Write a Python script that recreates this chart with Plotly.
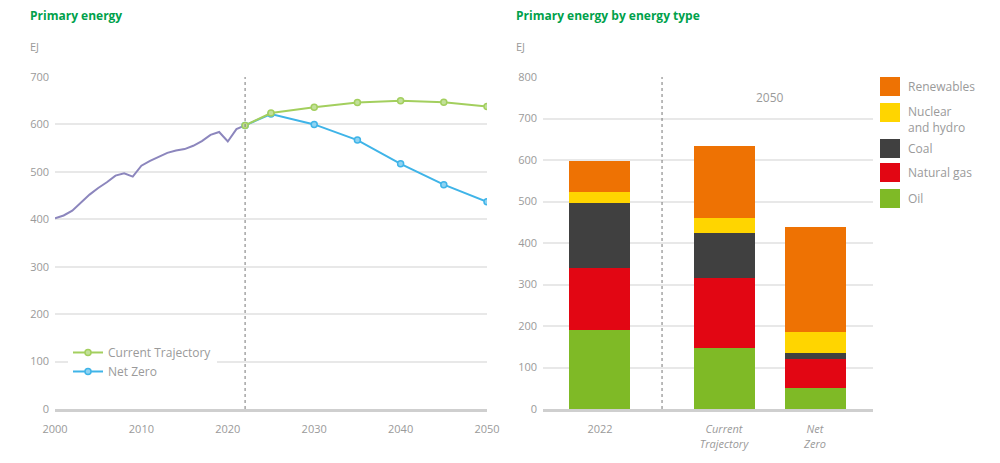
import plotly.graph_objects as go

# ---- data ----
hist_years = list(range(2000, 2023))
hist_values = [402, 408, 418, 435, 452, 466, 478, 492, 497, 490, 513, 523, 532,
               540, 545, 548, 555, 565, 578, 584, 564, 590, 598]
proj_years = [2022, 2025, 2030, 2035, 2040, 2045, 2050]
ct_values = [598, 624, 636, 646, 650, 647, 638]
nz_values = [598, 622, 600, 567, 517, 473, 437]

bar_categories = ["2022", "<i>Current</i><br><i>Trajectory</i>", "<i>Net</i><br><i>Zero</i>"]
oil = [190, 146, 50]
natural_gas = [149, 169, 70]
coal = [157, 108, 16]
nuclear_hydro = [28, 37, 50]
renewables = [74, 174, 252]

# ---- layout helpers (positions / styles) ----
bar_pos = [-0.363, 1.0, 2.0]
GREEN_T = "#00a14b"
GREY = "#9a9a9a"
FONT = "Open Sans"

fig = go.Figure()

fig.add_trace(go.Scatter(x=hist_years, y=hist_values, mode="lines",
                         line=dict(color="#8c86bd", width=2), showlegend=False,
                         xaxis="x", yaxis="y"))
fig.add_trace(go.Scatter(x=proj_years, y=nz_values, mode="lines+markers", name="Net Zero",
                         line=dict(color="#3fb4e8", width=2), legendrank=2,
                         marker=dict(size=6, color="#8fd3f2", line=dict(color="#3fb4e8", width=1.5)),
                         xaxis="x", yaxis="y"))
fig.add_trace(go.Scatter(x=proj_years, y=ct_values, mode="lines+markers", name="Current Trajectory",
                         line=dict(color="#a3cf5e", width=2), legendrank=1,
                         marker=dict(size=6, color="#c2e09a", line=dict(color="#a3cf5e", width=1.5)),
                         xaxis="x", yaxis="y"))

series = [("Oil", oil, "#7fba26"), ("Natural gas", natural_gas, "#e20613"),
          ("Coal", coal, "#404040"), ("Nuclear<br>and hydro", nuclear_hydro, "#ffd500"),
          ("Renewables", renewables, "#ee7203")]
for name, vals, col in series:
    fig.add_trace(go.Bar(x=bar_pos, y=vals, name=name, marker=dict(color=col, line=dict(width=0)),
                         width=0.67, showlegend=False, xaxis="x2", yaxis="y2"))

shapes = [
    dict(type="line", xref="x", yref="y", x0=2022, x1=2022, y0=0, y1=700,
         line=dict(color="#777777", width=1, dash="dot")),
    dict(type="line", xref="x2", yref="y2", x0=0.319, x1=0.319, y0=0, y1=800,
         line=dict(color="#777777", width=1, dash="dot")),
]
annotations = [
    dict(text="<b>Primary energy</b>", x=0.028, y=0.967, xref="paper", yref="paper",
         xanchor="left", yanchor="middle", showarrow=False, font=dict(color=GREEN_T, size=12)),
    dict(text="<b>Primary energy by energy type</b>", x=0.514, y=0.967, xref="paper", yref="paper",
         xanchor="left", yanchor="middle", showarrow=False, font=dict(color=GREEN_T, size=12)),
    dict(text="EJ", x=0.028, y=0.90, xref="paper", yref="paper", xanchor="left", yanchor="middle",
         showarrow=False, font=dict(color=GREY, size=11)),
    dict(text="EJ", x=0.514, y=0.90, xref="paper", yref="paper", xanchor="left", yanchor="middle",
         showarrow=False, font=dict(color=GREY, size=11)),
    dict(text="2050", x=1.5, y=750, xref="x2", yref="y2", showarrow=False,
         font=dict(color=GREY, size=12)),
]
# bar legend (top to bottom: Renewables ... Oil)
legend_tops = [77, 103, 139, 163, 189]
for (name, vals, col), top in zip(reversed(series), legend_tops):
    y0 = (463 - top) / 463
    y1 = (463 - top - 19) / 463
    shapes.append(dict(type="rect", xref="paper", yref="paper", x0=0.880, x1=0.900, y0=y1, y1=y0,
                       fillcolor=col, line=dict(width=0)))
    annotations.append(dict(text=name, x=0.906, y=(y0 + y1) / 2 if "<br>" not in name else y0 + 0.005,
                            xref="paper", yref="paper", xanchor="left",
                            yanchor="middle" if "<br>" not in name else "top",
                            showarrow=False, align="left", font=dict(color=GREY, size=12)))

ydom = [(463 - 409) / 463, (463 - 77) / 463]
axis_common = dict(tickfont=dict(color=GREY, size=11), showgrid=False, zeroline=False, automargin=False,
                   ticklabelstandoff=8)
yaxis_common = dict(showgrid=True, gridcolor="#e8e8e8", gridwidth=1.5, tickfont=dict(color=GREY, size=11),
                    zeroline=False, automargin=False, ticklabelstandoff=5)
fig.update_layout(
    width=1000, height=463, margin=dict(l=0, r=0, t=0, b=0),
    plot_bgcolor="white", paper_bgcolor="white",
    font=dict(family=FONT, color=GREY),
    xaxis=dict(domain=[0.055, 0.487], range=[2000, 2050], tickvals=[2000, 2010, 2020, 2030, 2040, 2050],
               showline=True, linecolor="#cfcfcf", linewidth=3, ticks="", anchor="y", **axis_common),
    yaxis=dict(domain=ydom, range=[0, 700], tickvals=list(range(0, 701, 100)), anchor="x", **yaxis_common),
    xaxis2=dict(domain=[0.543, 0.873], range=[-0.989, 2.637], tickvals=bar_pos, ticktext=bar_categories,
                showline=True, linecolor="#cfcfcf", linewidth=3, ticks="", anchor="y2", **axis_common),
    yaxis2=dict(domain=ydom, range=[0, 800], tickvals=list(range(0, 801, 100)), anchor="x2", **yaxis_common),
    barmode="stack", bargap=0,
    legend=dict(x=0.068, y=0.27, xanchor="left", yanchor="top", bgcolor="white",
                font=dict(color=GREY, size=12), tracegroupgap=0, traceorder="normal", itemwidth=30),
    shapes=shapes, annotations=annotations,
)

fig.write_html("out.html", config={"displayModeBar": False},
               post_script="document.body.style.margin='0';")
